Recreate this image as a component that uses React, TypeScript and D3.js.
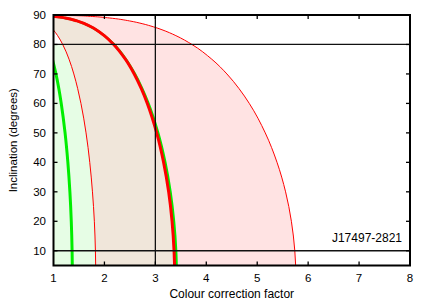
import React, { useRef, useEffect } from 'react';
import * as d3 from 'd3';

// inclination (degrees) sampled along each curve
const inclination = [5, 10, 20, 30, 40, 50, 60, 65, 70, 75, 80, 83, 85, 86, 87, 88, 89, 89.5, 89.8, 90];

// colour correction factor at the inclinations above
const redOuter = [5.755, 5.738, 5.671, 5.557, 5.389, 5.158, 4.844, 4.644, 4.405, 4.108, 3.718, 3.403, 3.13, 2.96, 2.755, 2.49, 2.094, 1.761, 1.4, 0];
const redMain = [3.377, 3.367, 3.328, 3.261, 3.162, 3.026, 2.842, 2.725, 2.585, 2.411, 2.182, 1.997, 1.837, 1.737, 1.617, 1.461, 1.229, 1.033, 0.822, 0];
const greenOuter = [3.417, 3.407, 3.366, 3.297, 3.195, 3.055, 2.865, 2.743, 2.598, 2.42, 2.188, 2.0, 1.837, 1.737, 1.617, 1.461, 1.229, 1.033, 0.822, 0];
const redInner = [1.828, 1.823, 1.802, 1.765, 1.712, 1.639, 1.539, 1.475, 1.399, 1.305, 1.181, 1.081, 0.994, 0.94, 0.875, 0.791, 0.665, 0.559, 0.445, 0];
const greenInner = [1.369, 1.365, 1.349, 1.322, 1.282, 1.227, 1.152, 1.105, 1.048, 0.977, 0.884, 0.809, 0.744, 0.7, 0.65, 0.59, 0.5, 0.42, 0.33, 0];

const xTicks = [1, 2, 3, 4, 5, 6, 7, 8];
const yTicks = [10, 20, 30, 40, 50, 60, 70, 80, 90];
const vLines = [3];
const hLines = [80, 10];
const sourceName = 'J17497-2821';

type Pt = [number, number]; // [factor, inclination]

const width = 431;
const height = 302;
const margin = { left: 53.5, right: 21, top: 15, bottom: 36.5 };
const FONT = '"Liberation Sans", Arial, Helvetica, sans-serif';

export default function App() {
  const ref = useRef<SVGSVGElement | null>(null);

  useEffect(() => {
    if (!ref.current) return;
    const svg = d3.select(ref.current);
    svg.selectAll('*').remove();

    const x = d3.scaleLinear().domain([1, 8]).range([margin.left, width - margin.right]);
    const y = d3.scaleLinear().domain([5, 90]).range([height - margin.bottom, margin.top]);

    const curve = (vals: number[]): Pt[] => vals.map((f, i) => [f, inclination[i]] as Pt);

    const line = d3.line<Pt>()
      .x(d => x(d[0]))
      .y(d => y(d[1]))
      .curve(d3.curveMonotoneY);
    const poly = d3.line<Pt>().x(d => x(d[0])).y(d => y(d[1]));

    const defs = svg.append('defs');
    defs.append('clipPath').attr('id', 'plot-clip')
      .append('rect')
      .attr('x', x(1)).attr('y', y(90))
      .attr('width', x(8) - x(1)).attr('height', y(5) - y(90));

    // pink band between the thin red curves
    const pinkPts: Pt[] = [...curve(redInner), ...curve(redOuter).reverse()];
    defs.append('clipPath').attr('id', 'pink-clip')
      .append('path').attr('d', poly(pinkPts));

    // green band: left edge at factor 1, notch where the inner red curve passes 80-85 deg
    const notch = curve(redInner).filter(d => d[1] >= 80 && d[1] <= 85);
    const greenPts: Pt[] = [
      [0.5, 5], [0.5, 80], ...notch, [0.5, 85], [0.5, 90],
      ...curve(greenOuter).reverse(),
    ];

    const g = svg.append('g').attr('clip-path', 'url(#plot-clip)');

    g.append('path').attr('d', poly(pinkPts)).attr('fill', '#ffe3e3');
    g.append('path').attr('d', poly(greenPts)).attr('fill', '#e6fde5');
    g.append('g').attr('clip-path', 'url(#pink-clip)')
      .append('path').attr('d', poly(greenPts)).attr('fill', '#f0e6da');

    g.append('path').datum(curve(redOuter)).attr('d', line)
      .attr('fill', 'none').attr('stroke', '#ff0000').attr('stroke-width', 1);
    g.append('path').datum(curve(redInner)).attr('d', line)
      .attr('fill', 'none').attr('stroke', '#ff0000').attr('stroke-width', 1);
    g.append('path').datum(curve(greenInner)).attr('d', line)
      .attr('fill', 'none').attr('stroke', '#00ee00').attr('stroke-width', 3);
    g.append('path').datum(curve(greenOuter)).attr('d', line)
      .attr('fill', 'none').attr('stroke', '#00ee00').attr('stroke-width', 2.5);
    g.append('path').datum(curve(redMain)).attr('d', line)
      .attr('fill', 'none').attr('stroke', '#ff0000').attr('stroke-width', 3);

    // reference lines
    vLines.forEach(v => {
      svg.append('line')
        .attr('x1', x(v)).attr('x2', x(v)).attr('y1', y(90)).attr('y2', y(5))
        .attr('stroke', '#111').attr('stroke-width', 1.3);
    });
    hLines.forEach(h => {
      svg.append('line')
        .attr('x1', x(1)).attr('x2', x(8)).attr('y1', y(h)).attr('y2', y(h))
        .attr('stroke', '#111').attr('stroke-width', 1.3);
    });

    // inward ticks on all sides
    const tl = 4;
    xTicks.slice(1, -1).forEach(t => {
      svg.append('line').attr('x1', x(t)).attr('x2', x(t)).attr('y1', y(5)).attr('y2', y(5) - tl)
        .attr('stroke', '#000').attr('stroke-width', 1.3);
      svg.append('line').attr('x1', x(t)).attr('x2', x(t)).attr('y1', y(90)).attr('y2', y(90) + tl)
        .attr('stroke', '#000').attr('stroke-width', 1.3);
    });
    yTicks.forEach(t => {
      svg.append('line').attr('x1', x(1)).attr('x2', x(1) + tl).attr('y1', y(t)).attr('y2', y(t))
        .attr('stroke', '#000').attr('stroke-width', 1.3);
      svg.append('line').attr('x1', x(8)).attr('x2', x(8) - tl).attr('y1', y(t)).attr('y2', y(t))
        .attr('stroke', '#000').attr('stroke-width', 1.3);
    });

    // frame
    svg.append('rect')
      .attr('x', x(1)).attr('y', y(90))
      .attr('width', x(8) - x(1)).attr('height', y(5) - y(90))
      .attr('fill', 'none').attr('stroke', '#000').attr('stroke-width', 2);

    // tick labels
    svg.append('g').selectAll('text').data(xTicks).join('text')
      .attr('x', d => x(d)).attr('y', y(5) + 16)
      .attr('text-anchor', 'middle')
      .attr('font-family', FONT).attr('font-size', 11.5).attr('fill', '#000')
      .text(d => d);
    svg.append('g').selectAll('text').data(yTicks).join('text')
      .attr('x', x(1) - 7.5).attr('y', d => y(d))
      .attr('dy', '0.35em')
      .attr('text-anchor', 'end')
      .attr('font-family', FONT).attr('font-size', 11.5).attr('fill', '#000')
      .text(d => d);

    // axis titles
    svg.append('text')
      .attr('x', (x(1) + x(8)) / 2).attr('y', height - 4)
      .attr('text-anchor', 'middle')
      .attr('font-family', FONT).attr('font-size', 12).attr('fill', '#000')
      .text('Colour correction factor');
    svg.append('text')
      .attr('transform', `translate(17,${(y(5) + y(90)) / 2}) rotate(-90)`)
      .attr('text-anchor', 'middle')
      .attr('font-family', FONT).attr('font-size', 11.5).attr('fill', '#000')
      .text('Inclination (degrees)');

    // source label
    svg.append('text')
      .attr('x', x(8) - 8).attr('y', y(10) - 9)
      .attr('text-anchor', 'end')
      .attr('font-family', FONT).attr('font-size', 12).attr('fill', '#000')
      .text(sourceName);
  }, []);

  return (
    <svg
      ref={ref}
      width={width}
      height={height}
      style={{ position: 'absolute', left: 0, top: 0, background: '#fff' }}
    />
  );
}
